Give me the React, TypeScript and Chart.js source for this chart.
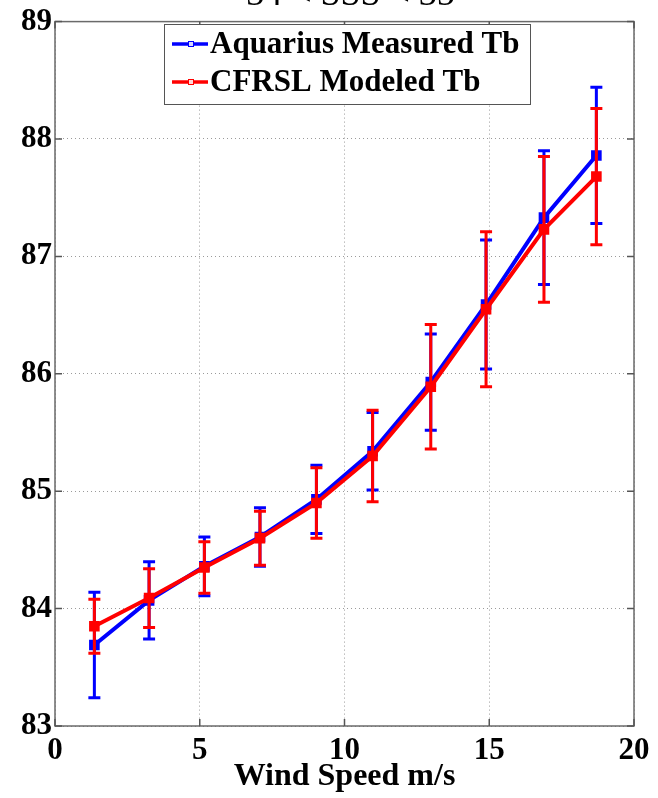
import { useEffect, useRef } from 'react';
import { Chart, registerables } from 'chart.js';

Chart.register(...registerables);

// Wind speed bins (m/s)
const windSpeed = [1.36, 3.25, 5.16, 7.08, 9.03, 10.97, 12.98, 14.89, 16.89, 18.7];
// Aquarius measured brightness temperature (K) and its standard deviation
const aquariusTb = [83.69, 84.07, 84.36, 84.61, 84.93, 85.34, 85.93, 86.59, 87.33, 87.86];
const aquariusErr = [0.45, 0.33, 0.25, 0.25, 0.29, 0.33, 0.41, 0.55, 0.57, 0.58];
// CFRSL modeled brightness temperature (K) and its standard deviation
const modeledTb = [83.85, 84.09, 84.35, 84.6, 84.9, 85.3, 85.89, 86.55, 87.23, 87.68];
const modeledErr = [0.23, 0.25, 0.22, 0.23, 0.3, 0.39, 0.53, 0.66, 0.62, 0.58];

const xTickValues = [0, 5, 10, 15, 20];
const yTickValues = [83, 84, 85, 86, 87, 88, 89];
const seriesLabels = ['Aquarius Measured Tb', 'CFRSL Modeled Tb'];
const seriesColors = ['#0000ff', '#ff0000'];
const titleText = '34 < SSS < 35';
const xAxisTitle = 'Wind Speed m/s';

const FONT = "'Liberation Serif', 'Times New Roman', Times, serif";

// Vertical error bars with caps, drawn right after each dataset
const errorBarPlugin = {
  id: 'errorBars',
  afterDatasetDraw(chart: any, args: any) {
    const ds = chart.data.datasets[args.index];
    const errs: number[] = ds.errors;
    if (!errs) return;
    const { ctx } = chart;
    const xs = chart.scales.x;
    const ys = chart.scales.y;
    ctx.save();
    ctx.strokeStyle = ds.borderColor;
    ctx.lineWidth = 3;
    ctx.lineCap = 'butt';
    ds.data.forEach((p: { x: number; y: number }, i: number) => {
      const px = xs.getPixelForValue(p.x);
      const top = ys.getPixelForValue(p.y + errs[i]);
      const bot = ys.getPixelForValue(p.y - errs[i]);
      ctx.beginPath();
      ctx.moveTo(px, top);
      ctx.lineTo(px, bot);
      ctx.moveTo(px - 6, top);
      ctx.lineTo(px + 6, top);
      ctx.moveTo(px - 6, bot);
      ctx.lineTo(px + 6, bot);
      ctx.stroke();
    });
    ctx.restore();
  },
};

// Axes box with inward tick marks on all four sides, title and legend
const framePlugin = {
  id: 'frame',
  beforeDatasetsDraw(chart: any) {
    const { ctx, chartArea: a } = chart;
    const xs = chart.scales.x;
    const ys = chart.scales.y;
    ctx.save();
    ctx.strokeStyle = '#6a6a6a';
    ctx.lineWidth = 1.5;
    ctx.strokeRect(a.left, a.top, a.right - a.left, a.bottom - a.top);
    ctx.strokeStyle = '#555';
    ctx.lineWidth = 1.5;
    ctx.beginPath();
    const tl = 7;
    xTickValues.forEach((v) => {
      const px = xs.getPixelForValue(v);
      ctx.moveTo(px, a.bottom);
      ctx.lineTo(px, a.bottom - tl);
      ctx.moveTo(px, a.top);
      ctx.lineTo(px, a.top + tl);
    });
    yTickValues.forEach((v) => {
      const py = ys.getPixelForValue(v);
      ctx.moveTo(a.left, py);
      ctx.lineTo(a.left + tl, py);
      ctx.moveTo(a.right, py);
      ctx.lineTo(a.right - tl, py);
    });
    ctx.stroke();
    ctx.restore();
  },
  afterDraw(chart: any) {
    const { ctx, chartArea: a } = chart;
    // Title, partly above the top edge of the canvas
    ctx.save();
    ctx.fillStyle = '#000';
    ctx.font = `36px ${FONT}`;
    ctx.textAlign = 'center';
    ctx.textBaseline = 'alphabetic';
    ctx.fillText(titleText, (a.left + a.right) / 2 + 6, 5);
    ctx.restore();

    // Legend box in the upper part of the plot
    const bx = 164;
    const by = 24;
    const bw = 366;
    const bh = 80;
    ctx.save();
    ctx.fillStyle = '#fff';
    ctx.fillRect(bx, by, bw, bh);
    ctx.strokeStyle = '#555';
    ctx.lineWidth = 1;
    ctx.strokeRect(bx + 0.5, by + 0.5, bw, bh);
    const rows = [44, 82];
    seriesLabels.forEach((label, i) => {
      const cy = rows[i];
      ctx.strokeStyle = seriesColors[i];
      ctx.lineWidth = 3.5;
      ctx.beginPath();
      ctx.moveTo(172, cy);
      ctx.lineTo(208, cy);
      ctx.stroke();
      ctx.lineWidth = 1;
      ctx.fillStyle = i === 0 ? '#d8d8ff' : '#ffd8d8';
      ctx.fillRect(188, cy - 3, 6, 6);
      ctx.strokeRect(188.5, cy - 2.5, 5, 5);
      ctx.fillStyle = '#000';
      ctx.font = `bold 31px ${FONT}`;
      ctx.textAlign = 'left';
      ctx.textBaseline = 'middle';
      ctx.fillText(label, 210, cy + 1);
    });
    ctx.restore();
  },
};

export default function App() {
  const canvasRef = useRef<HTMLCanvasElement | null>(null);

  useEffect(() => {
    const canvas = canvasRef.current;
    if (!canvas) return;
    const makeData = (ys: number[]) => windSpeed.map((x, i) => ({ x, y: ys[i] }));
    const chart = new Chart(canvas, {
      type: 'line',
      data: {
        datasets: [
          {
            label: seriesLabels[0],
            data: makeData(aquariusTb),
            errors: aquariusErr,
            order: 2,
            borderColor: seriesColors[0],
            backgroundColor: seriesColors[0],
            borderWidth: 4,
            pointStyle: 'rect',
            pointRadius: 7.5,
            pointBorderWidth: 0,
            tension: 0,
          } as any,
          {
            label: seriesLabels[1],
            data: makeData(modeledTb),
            errors: modeledErr,
            order: 1,
            borderColor: seriesColors[1],
            backgroundColor: seriesColors[1],
            borderWidth: 4,
            pointStyle: 'rect',
            pointRadius: 7.5,
            pointBorderWidth: 0,
            tension: 0,
          } as any,
        ],
      },
      options: {
        responsive: false,
        animation: false,
        events: [],
        layout: { padding: { left: 0, right: 24, top: 19, bottom: 0 } },
        plugins: {
          legend: { display: false },
          title: { display: false },
          tooltip: { enabled: false },
        },
        scales: {
          x: {
            type: 'linear',
            min: 0,
            max: 20,
            afterFit: (scale: any) => {
              scale.height = 72;
            },
            afterBuildTicks: (scale: any) => {
              scale.ticks = xTickValues.map((value) => ({ value }));
            },
            ticks: {
              color: '#000',
              font: { family: FONT, size: 31, weight: 'bold' },
              padding: 6,
              maxRotation: 0,
              autoSkip: false,
            },
            grid: {
              color: '#9a9a9a',
              lineWidth: 1,
              drawTicks: false,
            },
            border: { display: false, dash: [1, 3] },
            title: {
              display: true,
              text: xAxisTitle,
              color: '#000',
              font: { family: FONT, size: 32, weight: 'bold' },
              padding: { top: 0, bottom: 2 },
            },
          },
          y: {
            type: 'linear',
            min: 83,
            max: 89,
            afterFit: (scale: any) => {
              scale.width = 55;
            },
            afterBuildTicks: (scale: any) => {
              scale.ticks = yTickValues.map((value) => ({ value }));
            },
            ticks: {
              color: '#000',
              font: { family: FONT, size: 31, weight: 'bold' },
              padding: 3,
              autoSkip: false,
            },
            grid: {
              color: '#9a9a9a',
              lineWidth: 1,
              drawTicks: false,
            },
            border: { display: false, dash: [1, 3] },
          },
        },
      },
      plugins: [errorBarPlugin, framePlugin],
    } as any);
    return () => chart.destroy();
  }, []);

  return (
    <div style={{ position: 'absolute', left: 0, top: 0, width: 658, height: 798, background: '#fff' }}>
      <canvas ref={canvasRef} width={658} height={798} style={{ display: 'block' }} />
    </div>
  );
}
